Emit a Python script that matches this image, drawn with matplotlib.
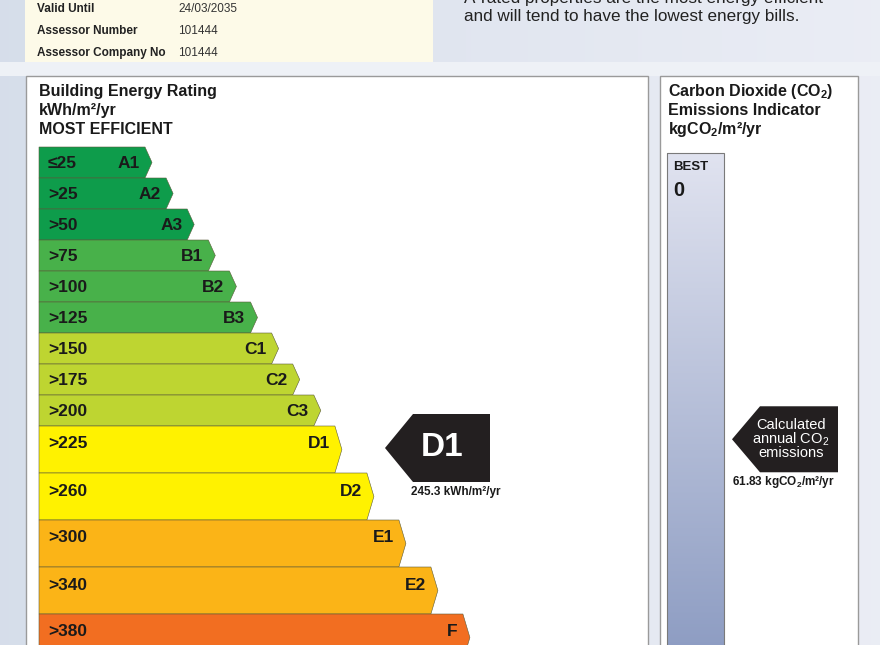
import matplotlib
matplotlib.use('Agg')
import matplotlib.pyplot as plt
import numpy as np
from matplotlib.patches import Polygon, Rectangle

plt.rcParams['font.family'] = ['Liberation Sans', 'DejaVu Sans']
plt.rcParams['mathtext.fontset'] = 'custom'
plt.rcParams['mathtext.rm'] = 'Liberation Sans'
plt.rcParams['mathtext.bf'] = 'Liberation Sans:bold'

# data
bands = ['A1', 'A2', 'A3', 'B1', 'B2', 'B3', 'C1', 'C2', 'C3', 'D1', 'D2', 'E1', 'E2', 'F']
thresholds = ['≤25', '>25', '>50', '>75', '>100', '>125', '>150', '>175', '>200',
              '>225', '>260', '>300', '>340', '>380']
band_colors = {'A': '#0e9c4b', 'B': '#48b14a', 'C': '#bed531', 'D': '#fff200',
               'E': '#fbb417', 'F': '#f26e21'}
rating = 'D1'
rating_value = 245.3
co2_value = 61.83
info_labels = ['Valid Until', 'Assessor Number', 'Assessor Company No']
info_values = ['24/03/2035', '101444', '101444']

W, H = 880, 645
fig = plt.figure(figsize=(W / 100, H / 100), dpi=100)
ax = fig.add_axes([0, 0, 1, 1])
ax.set_xlim(0, W)
ax.set_ylim(H, 0)
ax.axis('off')

# background
grad = np.linspace(0, 1, 200)[None, :]
bg = np.dstack([0.84 + 0.08 * grad, 0.87 + 0.06 * grad, 0.92 + 0.04 * grad])
ax.imshow(bg, extent=[0, W, H, 0], aspect='auto', zorder=0)
ax.add_patch(Rectangle((0, 62), W, 14, facecolor='#eef1f6', edgecolor='none', zorder=0.5))

# top info box
ax.add_patch(Rectangle((25, -2), 408, 64, facecolor='#fdfae8', edgecolor='none', zorder=1))
for i, (lab, val) in enumerate(zip(info_labels, info_values)):
    y = 8.5 + 22.3 * i
    ax.text(37, y, lab, fontsize=8.5, fontweight='bold', color='#222222', va='center', zorder=2)
    ax.text(178, y, val, fontsize=8.5, color='#333333', va='center', zorder=2)

ax.text(464, -2, 'A-rated properties are the most energy efficient', fontsize=12.3,
        color='#222222', va='center', zorder=2)
ax.text(464, 17, 'and will tend to have the lowest energy bills.', fontsize=12.3,
        color='#222222', va='center', zorder=2)

# left panel
ax.add_patch(Rectangle((26, 76), 622, 580, facecolor='white', edgecolor='#9a9a9a', lw=1, zorder=1))
for k, line in enumerate(['Building Energy Rating', 'kWh/m²/yr', 'MOST EFFICIENT']):
    ax.text(39, 91.5 + 19 * k, line, fontsize=11.5, fontweight='bold', va='center',
            color='#1a1a1a', zorder=2)

top = 147.0
rating_mid = None
for i, (band, thr) in enumerate(zip(bands, thresholds)):
    h = 31.0 if i < 9 else 47.0
    end = 145 + 21.1 * min(i, 9) + 32 * max(0, i - 9)
    mid = top + h / 2
    poly = Polygon([(39, top), (end, top), (end + 7, mid), (end, top + h), (39, top + h)],
                   closed=True, facecolor=band_colors[band[0]], edgecolor='#5a5a3a',
                   lw=0.4, zorder=2)
    ax.add_patch(poly)
    ty = mid + 1 if i < 9 else top + 18
    ax.text(48, ty, thr, fontsize=12.5, fontweight='bold', va='center', color='#1a1a1a', zorder=3)
    ax.text(end - 5, ty, band, fontsize=12.5, fontweight='bold', va='center', ha='right',
            color='#1a1a1a', zorder=3)
    if band == rating:
        rating_mid = top + 22
    top += h

# rating arrow
ry = rating_mid
ax.add_patch(Polygon([(385, ry), (413, ry - 34), (490, ry - 34), (490, ry + 34), (413, ry + 34)],
                     closed=True, facecolor='#231f20', edgecolor='none', zorder=3))
ax.text(442, ry, rating, fontsize=24, fontweight='bold', color='white', ha='center',
        va='center', zorder=4)
ax.text(456, ry + 44, f'{rating_value} kWh/m²/yr', fontsize=8.5, fontweight='bold',
        ha='center', va='center', color='#1a1a1a', zorder=3)

# right panel
ax.add_patch(Rectangle((660, 76), 198, 580, facecolor='white', edgecolor='#9a9a9a', lw=1, zorder=1))
for k, line in enumerate([r'Carbon Dioxide (CO$_\mathbf{2}$)', 'Emissions Indicator',
                          r'kgCO$_\mathbf{2}$/m²/yr']):
    ax.text(668, 91.5 + 19 * k, line, fontsize=11.5, fontweight='bold', va='center',
            color='#1a1a1a', zorder=2)

g = np.linspace(0, 1, 200)[:, None]
bar = np.dstack([0.88 - 0.33 * g, 0.89 - 0.28 * g, 0.94 - 0.18 * g])
ax.imshow(bar, extent=[667, 724, 660, 153], aspect='auto', zorder=2)
ax.add_patch(Rectangle((667, 153), 57, 510, facecolor='none', edgecolor='#7a7a7a', lw=0.8, zorder=3))
ax.text(673, 167, 'BEST', fontsize=9.5, fontweight='bold', va='center', color='#1a1a1a', zorder=3)
ax.text(673, 190, '0', fontsize=14.5, fontweight='bold', va='center', color='#1a1a1a', zorder=3)

# co2 arrow, position on a fixed scale of the indicator bar
px_per_kg = 4.63
cy = 153 + co2_value * px_per_kg
ax.add_patch(Polygon([(732, cy), (760, cy - 33), (838, cy - 33), (838, cy + 33), (760, cy + 33)],
                     closed=True, facecolor='#231f20', edgecolor='none', zorder=3))
ax.text(791, cy, 'Calculated\nannual CO$_2$\nemissions', fontsize=10.5, color='white',
        ha='center', va='center', linespacing=0.85, zorder=4)
ax.text(783, cy + 43, f'{co2_value}' + r' kgCO$_\mathbf{2}$/m²/yr', fontsize=8.5,
        fontweight='bold', ha='center', va='center', color='#1a1a1a', zorder=3)

fig.savefig('out.png', dpi=100)
